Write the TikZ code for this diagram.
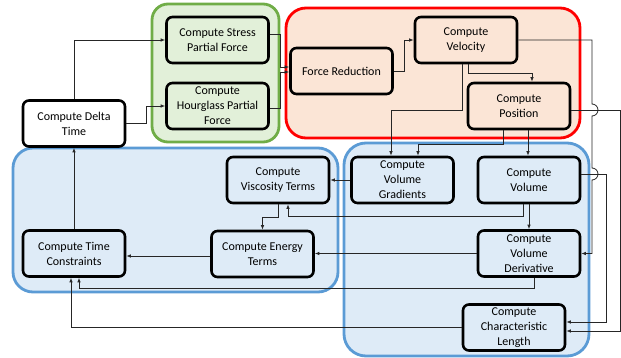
\documentclass[tikz,border=0pt]{standalone}
\usepackage{fontspec}
\setmainfont{Carlito}
\usetikzlibrary{arrows.meta}
\definecolor{grpgreen}{HTML}{E2F0D9}
\definecolor{grpgreenline}{HTML}{70AD47}
\definecolor{grpred}{HTML}{FBE5D6}
\definecolor{grpblue}{HTML}{DEEBF7}
\definecolor{grpblueline}{HTML}{5B9BD5}

\begin{document}
\begin{tikzpicture}[x=1pt, y=-1pt,
    stage/.style={draw=black, line width=2.6pt, rounded corners=6pt, minimum width=102pt,
                  minimum height=46pt, inner sep=1pt, align=center,
                  font=\fontsize{12}{15}\selectfont},
    group/.style={line width=2.8pt, rounded corners=#1},
    flow/.style={line width=0.8pt, draw=black!85, -{Latex[length=4.5pt,width=3.5pt]}}]
\useasboundingbox[fill=white] (0,0) rectangle (621,358);

\draw[group=16pt, fill=grpgreen, draw=grpgreenline] (152,4) rectangle (279,142);
\draw[group=20pt, fill=grpred, draw=red] (286,8) rectangle (580,138);
\draw[group=20pt, fill=grpblue, draw=grpblueline] (13,148) rectangle (338,292);
\draw[group=22pt, fill=grpblue, draw=grpblueline] (344,143) rectangle (589,356);

\node[stage, fill=white] (dt) at (74,123.5) {Compute Delta\\Time};
\node[stage] (stress) at (217.5,40) {Compute Stress\\Partial Force};
\node[stage] (hourglass) at (217.5,106) {Compute\\Hourglass Partial\\Force};
\node[stage] (forcered) at (341.5,71) {Force Reduction};
\node[stage] (vel) at (466,40) {Compute\\Velocity};
\node[stage] (pos) at (519,106) {Compute\\Position};
\node[stage] (volgrad) at (402.5,180) {Compute\\Volume\\Gradients};
\node[stage] (vol) at (529,180) {Compute\\Volume};
\node[stage] (volderiv) at (529,253.5) {Compute\\Volume\\Derivative};
\node[stage] (charlen) at (514,327.5) {Compute\\Characteristic\\Length};
\node[stage] (visc) at (278,180) {Compute\\Viscosity Terms};
\node[stage] (energy) at (262.5,254) {Compute Energy\\Terms};
\node[stage] (timecon) at (74,253.5) {Compute Time\\Constraints};

\draw[flow] (dt.north) |- (stress.west);
\draw[flow] (dt.east) -- (146,123.5) |- (hourglass.west);
\draw[flow] ([yshift=6pt]stress.east) -- (280,34) |- ([yshift=4pt]forcered.west);
\draw[flow] ([yshift=-2pt]hourglass.east) -- (280,108) |- ([yshift=-1pt]forcered.west);
\draw[flow] (forcered.east) -- (404,71) |- (vel.west);
\draw[flow] ([xshift=2pt]vel.south) -- (468,73) -| ([xshift=13pt]pos.north);
\draw[flow] ([xshift=-4pt]vel.south) -- (462,110) -| ([xshift=-11.5pt]volgrad.north);
\draw[flow] ([xshift=-16pt]pos.south) -- (503,144) -| ([xshift=15.5pt]volgrad.north);
\draw[flow] ([xshift=9pt]pos.south) -- ([xshift=-1pt]vol.north);
\draw[flow] (vel.east) -- (592,40) -- (592,104) arc[start angle=-90, end angle=90, radius=6]
    -- (592,168) arc[start angle=-90, end angle=90, radius=6] -- (592,253.5) -- (volderiv.east);
\draw[flow] ([yshift=-4pt]pos.east) -- (620,110) |- ([yshift=-3.5pt]charlen.east);
\draw[flow] ([yshift=6pt]vol.east) -- (606,174) |- ([yshift=5.5pt]charlen.east);
\draw[flow] (vol.south) -- (volderiv.north);
\draw[flow] ([xshift=-6pt]vol.south) -- (523,216) -| ([xshift=10pt]visc.south);
\draw[flow] (volgrad.west) -- (visc.east);
\draw[flow] (visc.south) -- (278,217) -| (energy.north);
\draw[flow] (volderiv.west) -- (volderiv.west -| energy.east);
\draw[flow] ([yshift=-2pt]energy.west) -- ([yshift=-2pt]energy.west -| timecon.east);
\draw[flow] ([xshift=5pt]volderiv.south) -- (534,288) -| ([xshift=5pt]timecon.south);
\draw[flow] (charlen.west) -| ([xshift=-3pt]timecon.south);
\draw[flow] (timecon.north) -- (dt.south);
\end{tikzpicture}
\end{document}
